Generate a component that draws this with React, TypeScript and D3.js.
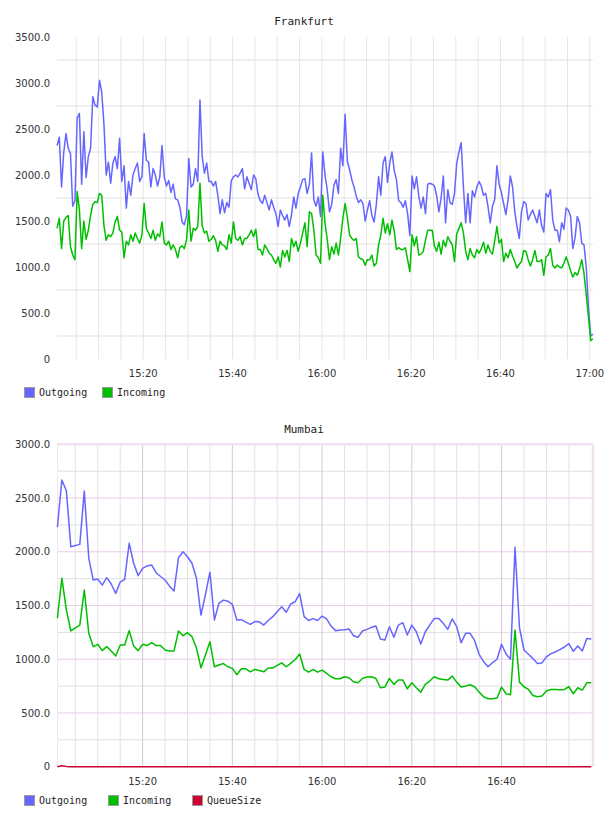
import * as d3 from 'd3';

// ---- data ----
const BASE = new Date(2014, 0, 1, 15, 0, 0);
const at = (sec: number) => new Date(BASE.getTime() + sec * 1000);

// Frankfurt: one sample every 30 s starting 15:00:42
const fraStartSec = 42;
const fraStepSec = 30;
const fraOutgoing = [
  2320, 2410, 1870, 2250, 2450, 2290, 2230, 1660, 1720, 2620,
  2670, 1900, 2470, 1970, 2200, 2290, 2850, 2760, 2740, 3030,
  2900, 2550, 2000, 2140, 1910, 2130, 2200, 2070, 2400, 1930,
  2100, 1640, 1930, 1780, 2000, 2070, 2130, 1930, 1980, 2450,
  2160, 2140, 1870, 2070, 2000, 1880, 1980, 2320, 1980, 1880,
  1940, 1810, 1900, 1740, 1730, 1650, 1490, 1460, 1560, 2180,
  1870, 1900, 2070, 1930, 2815, 2200, 2020, 2130, 1930, 1930,
  1880, 1930, 1780, 1580, 1730, 1590, 1700, 1650, 1935, 1980,
  2000, 1980, 2020, 2070, 1850, 1980, 1910, 1840, 2000, 1960,
  1790, 1720, 1690, 1780, 1700, 1620, 1730, 1650, 1580, 1440,
  1620, 1560, 1510, 1570, 1440, 1570, 1760, 1640, 1800, 1870,
  1950, 1960, 1800, 1900, 2240, 1730, 1660, 1760, 1550, 2250,
  2000, 1840, 1600, 1680, 1890, 1950, 1800, 2290, 2100, 2660,
  2150, 2060, 1950, 1870, 1770, 1700, 1730, 1690, 1500, 1620,
  1720, 1560, 1490, 1680, 1980, 1780, 2130, 2200, 1920, 2130,
  2250, 2050, 1950, 1720, 1700, 1650, 1720, 1580, 1340, 1990,
  1850, 1980, 1770, 1640, 1760, 1580, 1900, 1910, 1900, 1880,
  1780, 1600, 1750, 1990, 1480, 1840, 1700, 1680, 1800, 2130,
  2250, 2350, 1870, 1480, 1800, 1480, 1830, 1760, 1870, 1930,
  1880, 1780, 1800, 1660, 1480, 1660, 1730, 2100, 1900, 1810,
  1690, 1570, 1730, 1990, 1870, 1600, 1440, 1310, 1600, 1710,
  1690, 1510, 1570, 1620, 1550, 1480, 1620, 1450, 1380, 1800,
  1760, 1840, 1510, 1400, 1400, 1275, 1480, 1410, 1640, 1620,
  1550, 1200, 1320, 1550, 1480, 1260, 1240, 1000, 560, 250,
  270,
];
const fraIncoming = [
  1420, 1530, 1200, 1500, 1540, 1560, 1220, 1130, 1080, 1820,
  1620, 1200, 1500, 1300, 1400, 1560, 1680, 1710, 1700, 1800,
  1780, 1450, 1290, 1350, 1330, 1370, 1490, 1550, 1400, 1380,
  1100, 1280, 1240, 1350, 1280, 1370, 1310, 1260, 1350, 1690,
  1420, 1370, 1310, 1400, 1290, 1360, 1330, 1490, 1260, 1240,
  1280, 1190, 1240, 1190, 1100, 1210, 1230, 1200, 1300, 1620,
  1280, 1420, 1400, 1440, 1910, 1450, 1370, 1390, 1280, 1300,
  1340, 1290, 1170, 1280, 1240, 1230, 1190, 1350, 1260, 1490,
  1310, 1290, 1330, 1240, 1310, 1310, 1350, 1400, 1330, 1410,
  1190, 1190, 1130, 1240, 1200, 1150, 1130, 1080, 1040, 1110,
  1000, 1180, 1110, 1180, 1060, 1310, 1220, 1280, 1170, 1260,
  1370, 1480, 1220, 1600, 1580, 1400, 1130, 1100, 1040, 1780,
  1480, 1300, 1080, 1220, 1140, 1260, 1130, 1310, 1530, 1690,
  1540, 1350, 1310, 1290, 1310, 1110, 1090, 1080, 1020, 1080,
  1080, 1130, 1010, 1040, 1240, 1350, 1530, 1370, 1470, 1350,
  1510, 1390, 1190, 1210, 1190, 1190, 1210, 1080, 950, 1350,
  1230, 1330, 1130, 1140, 1170, 1290, 1400, 1400, 1400, 1230,
  1170, 1270, 1140, 1290, 1220, 1330, 1280, 1240, 1060, 1360,
  1420, 1480, 1370, 1170, 1080, 1200, 1130, 1100, 1190, 1150,
  1200, 1270, 1150, 1240, 1170, 1140, 1280, 1440, 1260, 1300,
  1060, 1150, 1100, 1190, 1120, 1060, 990, 1030, 1060, 1180,
  1170, 1080, 1010, 1080, 1180, 1060, 1060, 1080, 910, 1110,
  1130, 1200, 1020, 990, 1020, 1000, 990, 1040, 1110, 1040,
  960, 890, 940, 910, 980, 1080, 930, 700, 460, 200,
  220,
];

// Mumbai: one sample per minute (minutes after 15:00)
const mumMinutes = [
  1, 2, 3, 4, 6, 7, 8, 9, 10,
  11, 12, 13, 14, 15, 16, 17, 18, 19, 20,
  21, 22, 23, 24, 25, 26, 27, 28, 29, 30,
  31, 32, 33, 34, 35, 36, 37, 38, 39, 40,
  41, 42, 43, 44, 45, 46, 47, 48, 49, 50,
  51, 52, 53, 54, 55, 56, 57, 58, 59, 60,
  61, 62, 63, 64, 65, 66, 67, 68, 69, 70,
  71, 72, 73, 74, 75, 76, 77, 78, 79, 80,
  81, 82, 83, 84, 85, 86, 87, 88, 89, 90,
  91, 92, 93, 94, 95, 96, 97, 98, 99, 100,
  101, 102, 103, 104, 105, 106, 107, 108, 109, 110,
  111, 112, 113, 114, 115, 116, 117, 118, 119, 120,
];
const mumOutgoing = [
  2228, 2668, 2568, 2047, 2069, 2565, 1939, 1737, 1746,
  1690, 1759, 1700, 1613, 1718, 1744, 2079, 1893, 1778, 1846,
  1868, 1877, 1805, 1770, 1737, 1680, 1635, 1945, 2000, 1954,
  1893, 1753, 1411, 1600, 1810, 1365, 1520, 1550, 1540, 1510,
  1365, 1368, 1345, 1325, 1350, 1348, 1318, 1360, 1396, 1442,
  1489, 1437, 1514, 1535, 1610, 1396, 1360, 1378, 1360, 1402,
  1375, 1309, 1266, 1272, 1275, 1281, 1219, 1204, 1263, 1278,
  1297, 1309, 1188, 1179, 1303, 1204, 1318, 1340, 1225, 1318,
  1256, 1141, 1256, 1318, 1380, 1380, 1334, 1278, 1375, 1303,
  1154, 1241, 1241, 1173, 1046, 977, 930, 969, 1000, 1139,
  1049, 1000, 2041, 1291, 1086, 1046, 1006, 960, 966, 1021,
  1052, 1068, 1089, 1114, 1145, 1074, 1123, 1077, 1192, 1188,
];
const mumIncoming = [
  1381, 1753, 1460, 1263, 1318, 1644, 1241, 1117, 1139,
  1080, 1117, 1077, 1030, 1132, 1132, 1266, 1123, 1080, 1139,
  1127, 1154, 1127, 1127, 1086, 1077, 1077, 1263, 1219, 1247,
  1210, 1104, 921, 1040, 1163, 930, 946, 960, 930, 915,
  856, 911, 911, 883, 905, 896, 883, 918, 918, 942,
  966, 930, 961, 998, 1049, 905, 880, 905, 880, 899,
  868, 837, 818, 818, 837, 828, 791, 781, 821, 834,
  837, 821, 735, 741, 821, 766, 806, 806, 725, 781,
  735, 694, 766, 797, 837, 818, 812, 806, 843, 787,
  741, 750, 763, 744, 694, 651, 632, 632, 639, 741,
  679, 670, 1272, 787, 744, 719, 663, 651, 657, 704,
  719, 719, 716, 719, 744, 679, 735, 713, 781, 781,
];
const mumQueueSize = [
  0, 9, 3, 0, 0, 0, 0, 0, 0,
  0, 0, 0, 0, 0, 0, 0, 0, 0, 0,
  0, 0, 0, 0, 0, 0, 0, 0, 0, 0,
  0, 0, 0, 0, 0, 0, 0, 0, 0, 0,
  0, 0, 0, 0, 0, 0, 0, 0, 0, 0,
  0, 0, 0, 0, 0, 0, 0, 0, 0, 0,
  0, 0, 0, 0, 0, 0, 0, 0, 0, 0,
  0, 0, 0, 0, 0, 0, 0, 0, 0, 0,
  0, 0, 0, 0, 0, 0, 0, 0, 0, 0,
  0, 0, 0, 0, 0, 0, 0, 0, 0, 0,
  0, 0, 0, 0, 0, 0, 0, 0, 0, 0,
  0, 0, 0, 0, 0, 0, 0, 0, 0, 0,
];

const fraTimes = fraOutgoing.map((_, i) => at(fraStartSec + i * fraStepSec));
const mumTimes = mumMinutes.map(m => at(m * 60));

const COLORS = { out: '#6666ff', inc: '#00bf00', queue: '#cc0033' };
const MONO = '"DejaVu Sans Mono", monospace';
const SANS = '"DejaVu Sans", sans-serif';

interface Series { name: string; color: string; values: number[] }

interface ChartProps {
  title: string;
  titleY: number;
  top: number;
  bottom: number;
  yMax: number;
  xDomain: [Date, Date];
  times: Date[];
  series: Series[];
  purple: boolean;
  legendY: number;
  legendXs: number[];
}

function Chart({ title, titleY, top, bottom, yMax, xDomain, times, series, purple, legendY, legendXs }: ChartProps) {
  const left = 57;
  const right = 593;
  const x = d3.scaleTime().domain(xDomain).range([left, right]);
  const y = d3.scaleLinear().domain([0, yMax]).range([bottom, top]);

  const minuteTicks = d3.timeMinute.every(5)!.range(xDomain[0], xDomain[1])
    .filter(d => !(purple && d.getHours() === 17));
  const labelTicks = minuteTicks.filter(d => d.getMinutes() % 20 === 0);
  const fmt = d3.timeFormat('%H:%M');

  const yLabels = d3.range(0, yMax + 1, 500);
  const yGrid = purple ? d3.range(250, yMax, 250) : d3.range(250, yMax, 500);

  const line = (vals: number[]) =>
    d3.line<number>().x((_, i) => x(times[i])).y(v => y(v))(vals) || '';

  return (
    <g>
      <text x={304} y={titleY} textAnchor="middle" fontFamily={MONO} fontSize={11} fill="#222">{title}</text>

      {yGrid.map(v => (
        <line key={'h' + v} x1={left} x2={right} y1={y(v)} y2={y(v)}
          stroke={purple ? (v % 500 === 0 ? '#e8cce8' : '#dedede') : '#f0f0f0'}
          strokeWidth={purple ? 1 : 2} />
      ))}
      {minuteTicks.map(d => (
        <line key={'v' + d.getTime()} x1={x(d)} x2={x(d)} y1={top} y2={bottom}
          stroke={purple ? (d.getMinutes() % 20 === 0 ? '#dcc4dc' : '#e2e2e2') : '#e6e6e6'}
          strokeWidth={1} />
      ))}
      {purple && (
        <g>
          <line x1={left} x2={right} y1={top} y2={top} stroke="#f0e2f0" strokeWidth={2.5} />
          <line x1={right} x2={right} y1={top} y2={bottom} stroke="#f0e2f0" strokeWidth={2.5} />
          <line x1={left + 0.5} x2={left + 0.5} y1={top} y2={bottom} stroke="#f3e6f3" strokeWidth={1} />
        </g>
      )}

      {yLabels.map(v => (
        <text key={'yl' + v} x={50} y={y(v) + 3.6} textAnchor="end" fontFamily={SANS} fontSize={10} fill="#333">
          {v === 0 ? '0' : v.toFixed(1)}
        </text>
      ))}
      {labelTicks.map(d => (
        <text key={'xl' + d.getTime()} x={x(d)} y={bottom + 18} textAnchor="middle" fontFamily={SANS} fontSize={10} fill="#333">
          {fmt(d)}
        </text>
      ))}

      {series.map(s => (
        <path key={s.name} d={line(s.values)} fill="none" stroke={s.color} strokeWidth={1.5} strokeLinejoin="round" />
      ))}

      {series.map((s, i) => (
        <g key={'lg' + s.name}>
          <rect x={legendXs[i] + 0.5} y={legendY + 0.5} width={10} height={10} fill={s.color} stroke="#999" />
          <text x={legendXs[i] + 15} y={legendY + 9} fontFamily={MONO} fontSize={10} fill="#222">{s.name}</text>
        </g>
      ))}
    </g>
  );
}

export default function App() {
  return (
    <svg width={608} height={816} style={{ position: 'absolute', left: 0, top: 0, background: '#fff' }}>
      <Chart
        title="Frankfurt"
        titleY={25}
        top={37}
        bottom={359}
        yMax={3500}
        xDomain={[at(41), at(120 * 60 + 43)]}
        times={fraTimes}
        series={[
          { name: 'Outgoing', color: COLORS.out, values: fraOutgoing },
          { name: 'Incoming', color: COLORS.inc, values: fraIncoming },
        ]}
        purple={false}
        legendY={387}
        legendXs={[24, 102]}
      />
      <Chart
        title="Mumbai"
        titleY={433}
        top={444.3}
        bottom={766.7}
        yMax={3000}
        xDomain={[at(55), at(120 * 60 + 23)]}
        times={mumTimes}
        series={[
          { name: 'Outgoing', color: COLORS.out, values: mumOutgoing },
          { name: 'Incoming', color: COLORS.inc, values: mumIncoming },
          { name: 'QueueSize', color: COLORS.queue, values: mumQueueSize },
        ]}
        purple={true}
        legendY={795}
        legendXs={[24, 108, 192]}
      />
    </svg>
  );
}
